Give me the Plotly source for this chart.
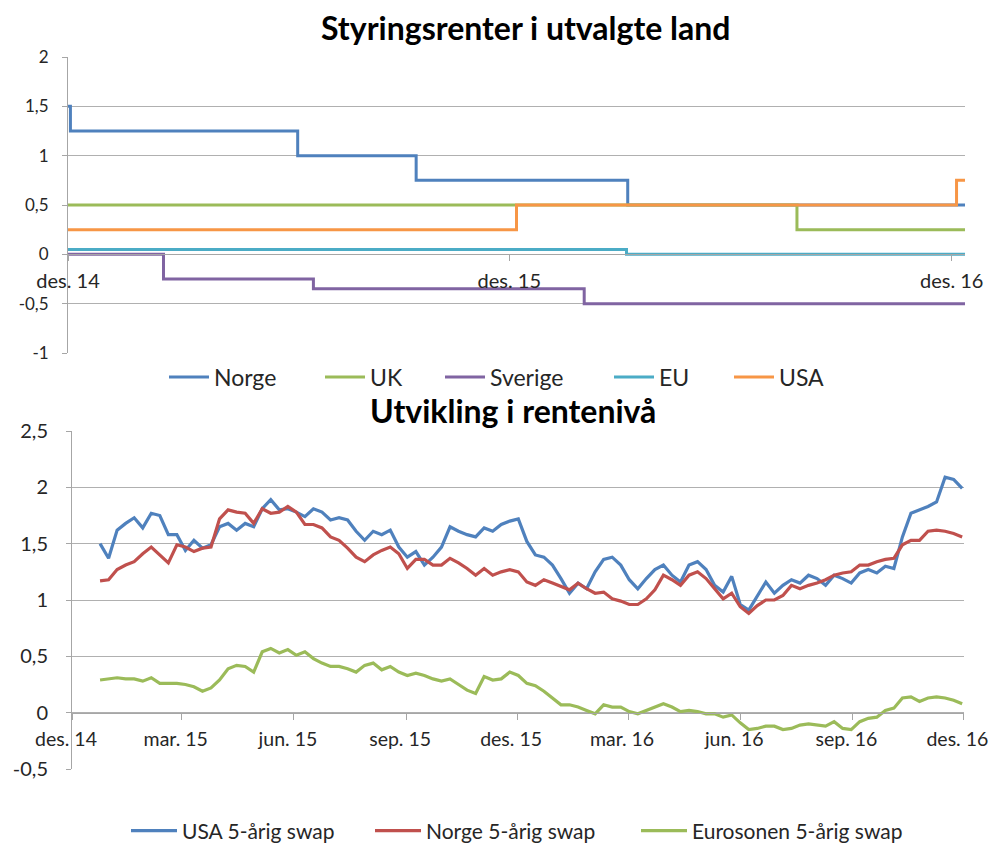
import plotly.graph_objects as go
import pandas as pd

# ---------------- Top chart: policy rates (step series) ----------------
norge_dates = ["2014-12-10", "2014-12-12", "2015-06-18", "2015-09-24", "2016-03-17", "2016-12-21"]
norge_vals = [1.5, 1.25, 1.0, 0.75, 0.5, 0.5]
uk_dates = ["2014-12-10", "2016-08-04", "2016-12-21"]
uk_vals = [0.5, 0.25, 0.25]
sverige_dates = ["2014-12-10", "2015-02-27", "2015-07-01", "2016-02-10", "2016-12-21"]
sverige_vals = [0.0, -0.25, -0.35, -0.5, -0.5]
eu_dates = ["2014-12-10", "2016-03-16", "2016-12-21"]
eu_vals = [0.05, 0.0, 0.0]
usa_dates = ["2014-12-10", "2015-12-16", "2016-12-14", "2016-12-21"]
usa_vals = [0.25, 0.5, 0.75, 0.75]

top_tickvals = ["2014-12-10", "2015-12-10", "2016-12-10"]
top_ticktext = ["des. 14", "des. 15", "des. 16"]
top_yvals = [-1, -0.5, 0, 0.5, 1, 1.5, 2]
top_ytext = ["-1", "-0,5", "0", "0,5", "1", "1,5", "2"]

# ---------------- Bottom chart: 5-year swap rates (weekly readings) ----------------
usa_swap = [1.50, 1.37, 1.62, 1.68, 1.73, 1.64, 1.77, 1.75, 1.58, 1.58, 1.44, 1.53, 1.46, 1.49, 1.65,
            1.68, 1.62, 1.68, 1.65, 1.81, 1.89, 1.80, 1.81, 1.78, 1.74,
            1.81,
            1.78, 1.71, 1.73, 1.71, 1.61, 1.53, 1.61, 1.58, 1.62, 1.47, 1.38, 1.43, 1.31, 1.38, 1.47,
            1.65, 1.61, 1.58, 1.56, 1.64, 1.61, 1.67, 1.70, 1.72, 1.52,
            1.40,
            1.38, 1.31, 1.19, 1.06, 1.15, 1.10, 1.25, 1.36, 1.38, 1.31, 1.18, 1.10, 1.19, 1.27, 1.31,
            1.22, 1.16, 1.31, 1.34, 1.27, 1.13, 1.07, 1.21, 0.96, 0.91,
            1.03,
            1.16, 1.06, 1.13, 1.18, 1.15, 1.22, 1.19, 1.13, 1.22, 1.19, 1.15, 1.24, 1.27, 1.24, 1.30,
            1.28, 1.56, 1.77, 1.80, 1.83, 1.87, 2.09, 2.07, 1.99]
norge_swap = [1.17, 1.18, 1.27, 1.31, 1.34, 1.41, 1.47, 1.40, 1.33, 1.49, 1.47, 1.43, 1.46, 1.47, 1.72,
              1.80, 1.78, 1.77, 1.68, 1.81, 1.77, 1.78, 1.83, 1.78, 1.67,
              1.67,
              1.64, 1.56, 1.53, 1.46, 1.38, 1.34, 1.40, 1.44, 1.47, 1.41, 1.28, 1.36, 1.36, 1.31, 1.31,
              1.37, 1.33, 1.28, 1.22, 1.28, 1.22, 1.25, 1.27, 1.25, 1.16,
              1.13,
              1.18, 1.15, 1.12, 1.09, 1.15, 1.10, 1.06, 1.07, 1.01, 0.99, 0.96, 0.96, 1.01, 1.09, 1.22,
              1.18, 1.13, 1.22, 1.25, 1.19, 1.10, 1.01, 1.06, 0.94, 0.88,
              0.95,
              1.00, 1.00, 1.04, 1.13, 1.10, 1.13, 1.15, 1.18, 1.22, 1.24, 1.25, 1.31, 1.31, 1.34, 1.36,
              1.37, 1.49, 1.53, 1.53, 1.61, 1.62, 1.61, 1.59, 1.56]
euro_swap = [0.29, 0.30, 0.31, 0.30, 0.30, 0.28, 0.31, 0.26, 0.26, 0.26, 0.25, 0.23, 0.19, 0.22, 0.29,
             0.39, 0.42, 0.41, 0.36, 0.54, 0.57, 0.53, 0.56, 0.51, 0.54,
             0.48,
             0.44, 0.41, 0.41, 0.39, 0.36, 0.42, 0.44, 0.38, 0.41, 0.36, 0.33, 0.35, 0.33, 0.30, 0.28,
             0.30, 0.25, 0.20, 0.17, 0.32, 0.29, 0.30, 0.36, 0.33, 0.26,
             0.24,
             0.19, 0.13, 0.07, 0.07, 0.05, 0.02, -0.01, 0.07, 0.05, 0.05, 0.01, -0.01, 0.02, 0.05, 0.08,
             0.05, 0.01, 0.02, 0.01, -0.01, -0.01, -0.04, -0.02, -0.09, -0.15,
             -0.14,
             -0.12, -0.12, -0.15, -0.14, -0.11, -0.10, -0.11, -0.12, -0.08, -0.14, -0.15, -0.08, -0.05,
             -0.04, 0.02, 0.04, 0.13, 0.14, 0.10, 0.13, 0.14, 0.13, 0.11, 0.08]
swap_dates = pd.date_range("2015-01-12", periods=len(usa_swap), freq="7D")

bot_tickvals = ["2014-12-20", "2015-03-20", "2015-06-20", "2015-09-20", "2015-12-20",
                "2016-03-20", "2016-06-20", "2016-09-20", "2016-12-20"]
bot_ticktext = ["des. 14", "mar. 15", "jun. 15", "sep. 15", "des. 15",
                "mar. 16", "jun. 16", "sep. 16", "des. 16"]
bot_yvals = [-0.5, 0, 0.5, 1, 1.5, 2, 2.5]
bot_ytext = ["-0,5", "0", "0,5", "1", "1,5", "2", "2,5"]

# ---------------- Figure ----------------
# The page body has an 8px margin; the figure starts 8px in and fills the rest of the window
OFF = 8
W, H = 997 - OFF, 845 - OFF
FONT = "Lato"
TXT = "#262626"
GRID = "#B0B0B0"
AX = "#A6A6A6"


def px_x(p):
    return (p - OFF) / W


def px_y(p):
    return 1 - (p - OFF) / H


fig = go.Figure()

top_series = [
    ("Norge", norge_dates, norge_vals, "#4F81BD"),
    ("UK", uk_dates, uk_vals, "#9BBB59"),
    ("Sverige", sverige_dates, sverige_vals, "#8064A2"),
    ("EU", eu_dates, eu_vals, "#4BACC6"),
    ("USA", usa_dates, usa_vals, "#F79646"),
]
top_leg_x = [169, 325, 445, 614, 734]
for i, (name, d, v, c) in enumerate(top_series):
    fig.add_trace(go.Scatter(x=d, y=v, name=name, mode="lines", line=dict(color=c, width=3, shape="hv"),
                             xaxis="x", yaxis="y", showlegend=True,
                             legend="legend" if i == 0 else f"legend{i+1}"))

bot_series = [
    ("USA 5-årig swap", usa_swap, "#4F81BD"),
    ("Norge 5-årig swap", norge_swap, "#C0504D"),
    ("Eurosonen 5-årig swap", euro_swap, "#9BBB59"),
]
bot_leg_x = [131, 375, 641]
for j, (name, v, c) in enumerate(bot_series):
    fig.add_trace(go.Scatter(x=swap_dates, y=v, name=name, mode="lines", line=dict(color=c, width=3.2),
                             xaxis="x2", yaxis="y2", showlegend=True, legend=f"legend{6+j}"))

legends = {}
for i, xp in enumerate(top_leg_x):
    key = "legend" if i == 0 else f"legend{i+1}"
    legends[key] = dict(x=px_x(xp - 5), y=px_y(377), xref="container", yref="container",
                        xanchor="left", yanchor="middle", itemwidth=40,
                        bgcolor="rgba(0,0,0,0)", font=dict(family=FONT, size=23, color=TXT),
                        orientation="h")
for j, xp in enumerate(bot_leg_x):
    legends[f"legend{6+j}"] = dict(x=px_x(xp - 5), y=px_y(831), xref="container", yref="container",
                                   xanchor="left", yanchor="middle", itemwidth=46,
                                   bgcolor="rgba(0,0,0,0)", font=dict(family=FONT, size=21, color=TXT),
                                   orientation="h")

ty0, ty1 = px_y(353), px_y(57)
by0, by1 = px_y(769), px_y(431)

fig.update_layout(
    width=W, height=H,
    margin=dict(l=0, r=0, t=0, b=0, autoexpand=False),
    paper_bgcolor="white", plot_bgcolor="white",
    separators=", ",
    showlegend=True,
    font=dict(family=FONT, color=TXT),
    xaxis=dict(domain=[px_x(68), px_x(965)], type="date", range=["2014-12-10", "2016-12-21"],
               tickmode="array", tickvals=top_tickvals, ticktext=top_ticktext,
               anchor="free", position=ty0 + (ty1 - ty0) / 3, automargin=False,
               showline=True, linecolor=AX, linewidth=1, ticks="outside", ticklen=6, tickcolor=AX,
               showgrid=False, zeroline=False, tickfont=dict(family=FONT, size=20, color=TXT),
               ticklabelstandoff=3),
    yaxis=dict(domain=[ty0, ty1], range=[-1, 2], tickmode="array", tickvals=top_yvals, ticktext=top_ytext,
               anchor="x", automargin=False,
               showgrid=True, gridcolor=GRID, gridwidth=1, zeroline=False,
               showline=True, linecolor=AX, ticks="outside", ticklen=5, tickcolor=AX,
               tickfont=dict(family=FONT, size=17, color=TXT), ticklabelstandoff=10),
    xaxis2=dict(domain=[px_x(72), px_x(964)], type="date", range=["2014-12-20", "2016-12-20 12:00"],
                tickmode="array", tickvals=bot_tickvals, ticktext=bot_ticktext,
                anchor="free", position=by0 + (by1 - by0) / 6, automargin=False,
                showline=True, linecolor=AX, linewidth=1, ticks="outside", ticklen=6, tickcolor=AX,
                showgrid=False, zeroline=False, tickfont=dict(family=FONT, size=19.5, color=TXT),
                ticklabelstandoff=3, ticklabelshift=-6),
    yaxis2=dict(domain=[by0, by1], range=[-0.5, 2.5], tickmode="array", tickvals=bot_yvals, ticktext=bot_ytext,
                anchor="x2", automargin=False,
                showgrid=True, gridcolor=GRID, gridwidth=1, zeroline=False,
                showline=True, linecolor=AX, ticks="outside", ticklen=5, tickcolor=AX,
                tickfont=dict(family=FONT, size=20, color=TXT), ticklabelstandoff=14),
    annotations=[
        dict(text="<b>Styringsrenter i utvalgte land</b>", x=px_x(525), y=px_y(28), xref="paper", yref="paper",
             showarrow=False, xanchor="center", yanchor="middle", font=dict(family=FONT, size=32, color="#000")),
        dict(text="<b>Utvikling i rentenivå</b>", x=px_x(513), y=px_y(411), xref="paper", yref="paper",
             showarrow=False, xanchor="center", yanchor="middle", font=dict(family=FONT, size=32, color="#000")),
    ],
    **legends,
)

fig.write_html("out.html")
